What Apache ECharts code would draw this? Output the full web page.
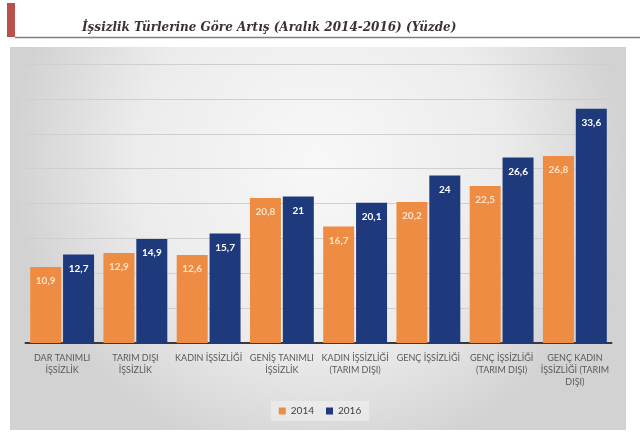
<!DOCTYPE html>
<html>
<head>
<meta charset="utf-8">
<script src="https://cdn.jsdelivr.net/npm/echarts@6/dist/echarts.min.js"></script>
<style>
html,body{margin:0;padding:0;background:#fff;}
#c{width:640px;height:446px;}
</style>
</head>
<body>
<div id="c"></div>
<script>
const titleText = 'İşsizlik Türlerine Göre Artış (Aralık 2014-2016) (Yüzde)';
const categories = [
  'DAR TANIMLI\nİŞSİZLİK',
  'TARIM DIŞI\nİŞSİZLİK',
  'KADIN İŞSİZLİĞİ',
  'GENİŞ TANIMLI\nİŞSİZLİK',
  'KADIN İŞSİZLİĞİ\n(TARIM DIŞI)',
  'GENÇ İŞSİZLİĞİ',
  'GENÇ İŞSİZLİĞİ\n(TARIM DIŞI)',
  'GENÇ KADIN\nİŞSİZLİĞİ (TARIM\nDIŞI)'
];
const seriesNames = ['2014', '2016'];
const values2014 = [10.9, 12.9, 12.6, 20.8, 16.7, 20.2, 22.5, 26.8];
const values2016 = [12.7, 14.9, 15.7, 21, 20.1, 24, 26.6, 33.6];

const chart = echarts.init(document.getElementById('c'), null, {renderer: 'canvas'});
const fmt = p => String(p.value).replace('.', ',');

chart.setOption({
  animation: false,
  backgroundColor: '#ffffff',
  graphic: [
    { type: 'rect', z: -10, shape: {x: 10, y: 47, width: 616, height: 383},
      style: { fill: new echarts.graphic.RadialGradient(0.5, 0.3, 0.8, [
        {offset: 0, color: '#f8f8f8'},
        {offset: 0.6, color: '#ececec'},
        {offset: 1, color: '#d2d2d2'}
      ]) } },
    { type: 'rect', z: 5, shape: {x: 7, y: 3, width: 8, height: 34},
      style: { fill: '#b9504c' } },
    { type: 'line', z: 5, shape: {x1: 15, y1: 37.5, x2: 640, y2: 37.5},
      style: { stroke: '#7f7f7f', lineWidth: 1.5 } },
    { type: 'text', z: 5, left: 82, top: 22,
      style: { text: titleText, fill: '#3b3132',
        font: 'italic bold 12px "DejaVu Serif", serif' } }
  ],
  legend: {
    data: seriesNames,
    bottom: 25,
    left: 'center',
    icon: 'rect',
    itemWidth: 7,
    itemHeight: 7,
    itemGap: 12,
    padding: [5, 8],
    backgroundColor: 'rgba(255,255,255,0.35)',
    textStyle: { color: '#404040', fontSize: 10, fontFamily: 'Lato, sans-serif' }
  },
  grid: { left: 25.5, right: 28.5, top: 64, bottom: 103, containLabel: false },
  xAxis: {
    type: 'category',
    data: categories,
    axisLine: { lineStyle: { color: '#3a3a3a', width: 2 } },
    axisTick: { show: false },
    axisLabel: { color: '#595959', fontSize: 9, lineHeight: 12, margin: 9,
      fontFamily: 'Lato, sans-serif', interval: 0 }
  },
  yAxis: {
    type: 'value',
    min: 0, max: 40, interval: 5,
    axisLabel: { show: false },
    axisLine: { show: false },
    axisTick: { show: false },
    splitLine: { lineStyle: { color: '#cfcfcf', width: 1 } }
  },
  series: [
    { name: seriesNames[0], type: 'bar', data: values2014, barWidth: 31, barGap: '6%',
      itemStyle: { color: '#ee8c43' },
      label: { show: true, position: 'insideTop', distance: 9, formatter: fmt,
        color: '#fde3c8', fontSize: 10, fontWeight: 'bold', fontFamily: 'Lato, sans-serif' } },
    { name: seriesNames[1], type: 'bar', data: values2016, barWidth: 31,
      itemStyle: { color: '#1f3a7c' },
      label: { show: true, position: 'insideTop', distance: 9, formatter: fmt,
        color: '#ffffff', fontSize: 10, fontWeight: 'bold', fontFamily: 'Lato, sans-serif' } }
  ]
});
</script>
</body>
</html>
